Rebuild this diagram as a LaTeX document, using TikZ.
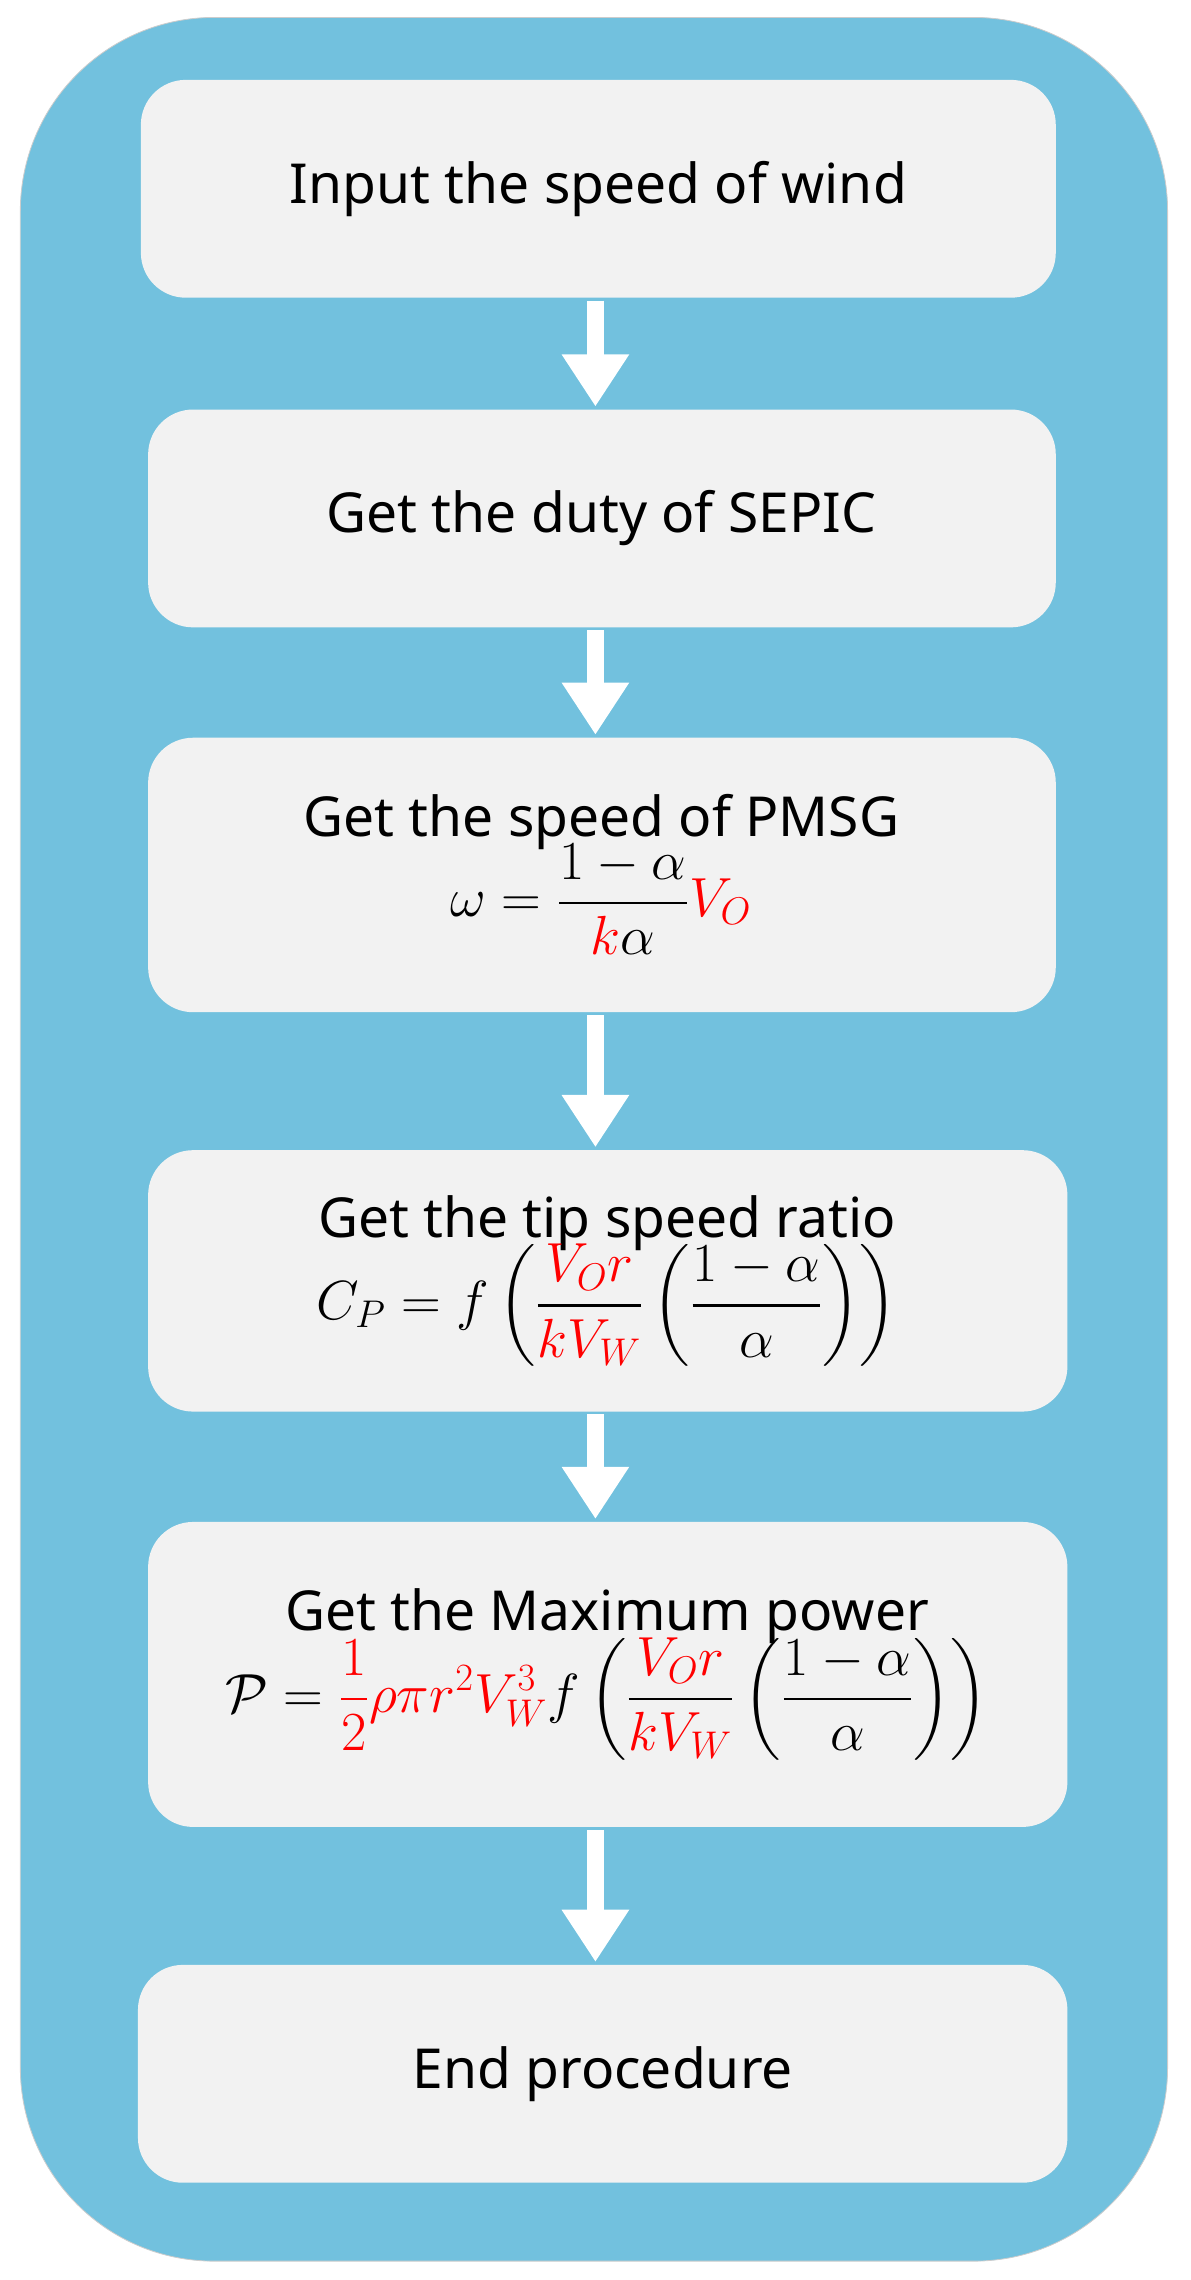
\documentclass[tikz,border=0pt]{standalone}
\usepackage{fix-cm}
\usepackage{amsmath}
\usepackage{fontspec}
\setsansfont{Noto Sans}
\usetikzlibrary{arrows.meta}
\definecolor{panel}{HTML}{72C1DE}
\definecolor{stepfill}{HTML}{F2F2F2}

\begin{document}
\begin{tikzpicture}[x=0.25mm,y=-0.25mm,font=\sffamily\fontsize{27}{38}\selectfont,
		stepbox/.style={fill=stepfill, rounded corners=22},
		flow/.style={white, line width=3mm, -{Triangle[length=9mm,width=11mm]}}]
		\useasboundingbox (0,0) rectangle (820,1570);
		\draw[fill=panel, draw=gray!40, rounded corners=95] (14,12) rectangle (804,1557);
		
		% steps
		\fill[stepbox] (97,55) rectangle (727,205);
		\node (wind) at (412,130) {Input the speed of wind};
		\fill[stepbox] (102,282) rectangle (727,432);
		\node (duty) at (414,357) {Get the duty of SEPIC};
		\fill[stepbox] (102,508) rectangle (727,697);
		\node (pmsg) at (414,602) [align=center] {Get the speed of PMSG\\[-4pt]
			$\displaystyle \omega=\frac{1-\alpha}{\color{red}k\color{black}\alpha}{\color{red}V_O}$};
		\fill[stepbox] (102,792) rectangle (735,972);
		\node (tsr) at (418,882) [align=center] {Get the tip speed ratio\\[-4pt]
			$\displaystyle C_P=f\left(\frac{\color{red}V_O r}{\color{red}kV_W}\left(\frac{1-\alpha}{\alpha}\right)\right)$};
		\fill[stepbox] (102,1048) rectangle (735,1258);
		\node (power) at (418,1153) [align=center] {Get the Maximum power\\[-4pt]
			$\displaystyle \mathcal{P}={\color{red}\frac{1}{2}\rho\pi r^2V_W^3}f\left(\frac{\color{red}V_O r}{\color{red}kV_W}\left(\frac{1-\alpha}{\alpha}\right)\right)$};
		\fill[stepbox] (95,1353) rectangle (735,1503);
		\node (stop) at (415,1428) {End procedure};
		
		% arrows
		\coordinate (a1) at (410,207); \coordinate (b1) at (410,280);
		\coordinate (a2) at (410,434); \coordinate (b2) at (410,506);
		\coordinate (a3) at (410,699); \coordinate (b3) at (410,790);
		\coordinate (a4) at (410,974); \coordinate (b4) at (410,1046);
		\coordinate (a5) at (410,1260); \coordinate (b5) at (410,1351);
		\foreach \i in {1,...,5} \draw[flow] (a\i) -- (b\i);
	\end{tikzpicture}
\end{document}
